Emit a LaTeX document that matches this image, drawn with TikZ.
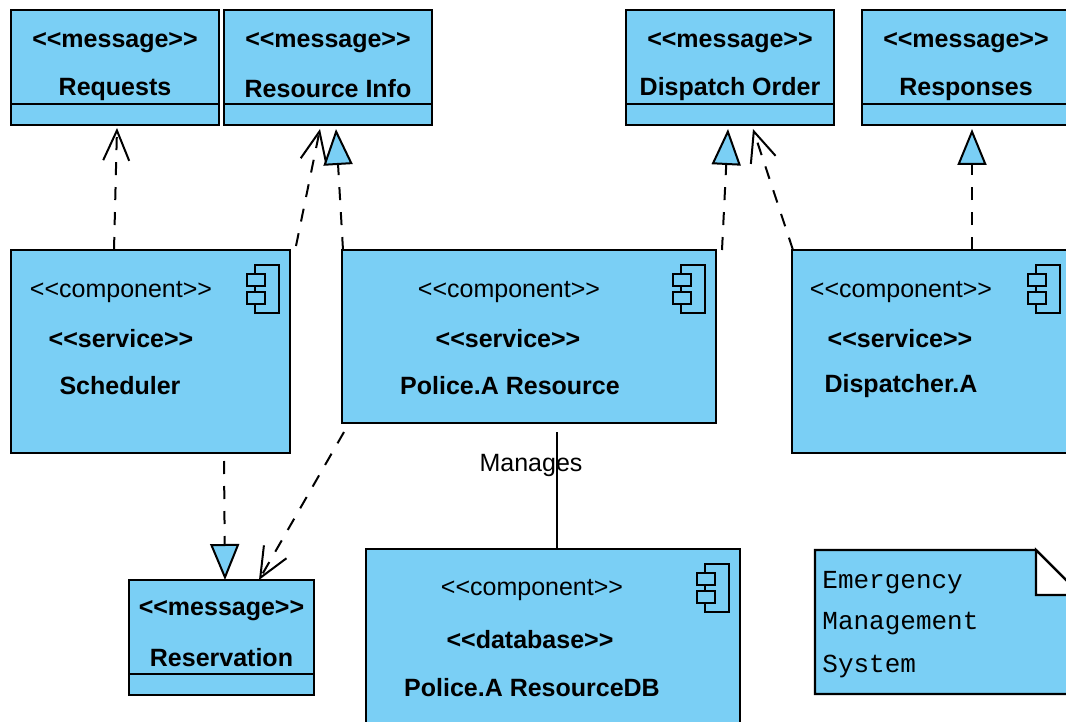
\documentclass[tikz,border=0pt]{standalone}
\usepackage{fontspec}
\setmainfont{Liberation Sans}
\setmonofont{Liberation Mono}
\usetikzlibrary{arrows.meta}
\definecolor{umlblue}{RGB}{122,207,245}
\newcommand{\stype}[1]{<{}<#1>{}>}
\tikzset{
  box/.style={draw, fill=umlblue, line width=1.1pt, inner sep=0pt, outer sep=0pt},
  txt/.style={inner sep=0pt, yshift=-1.5pt, font=\fontsize{12.5}{15}\selectfont},
  btxt/.style={inner sep=0pt, yshift=-1.5pt, font=\fontsize{12.5}{15}\selectfont\bfseries},
  mono/.style={inner sep=0pt, yshift=-1.5pt, anchor=west, font=\fontsize{13}{15}\selectfont\ttfamily},
  dep/.style={line width=1pt, dash pattern=on 6.5pt off 6pt, -{Straight Barb[length=15pt,width=13pt,line width=1pt]}},
  real/.style={line width=1pt, dash pattern=on 6.5pt off 6pt, -{Triangle[open,fill=umlblue,length=18pt,width=14.5pt,line width=1pt]}},
  compicon/.pic={
    \draw[line width=1pt] (-35,15) rectangle (-11,63);
    \draw[line width=1pt, fill=umlblue] (-43,24) rectangle (-25,36);
    \draw[line width=1pt, fill=umlblue] (-43,42) rectangle (-25,54);
  }
}
\begin{document}
\begin{tikzpicture}[x=0.5pt, y=-0.5pt]
\useasboundingbox (0,0) rectangle (1066,722);
\clip (0,0) rectangle (1066,722);
% message boxes
\node[box, minimum width=104pt, minimum height=57.5pt] (requests) at (115,67.5) {};
\node[box, minimum width=104pt, minimum height=57.5pt] (resinfo) at (328,67.5) {};
\node[box, minimum width=104pt, minimum height=57.5pt] (disporder) at (730,67.5) {};
\node[box, minimum width=104pt, minimum height=57.5pt] (responses) at (966,67.5) {};
\node[box, minimum width=92.5pt, minimum height=57.5pt] (reserv) at (221.5,637.5) {};
\foreach \m in {requests,resinfo,disporder,responses,reserv}
  \draw[line width=1.1pt] ([yshift=10.5pt]\m.south west) -- ([yshift=10.5pt]\m.south east);
\node[btxt] (requests-st) at (115,40) {\stype{message}};
\node[btxt] (requests-nm) at (115,86) {Requests};
\node[btxt] (resinfo-st) at (328,40) {\stype{message}};
\node[btxt] (resinfo-nm) at (328,86) {Resource Info};
\node[btxt] (disporder-st) at (730,40) {\stype{message}};
\node[btxt] (disporder-nm) at (730,86) {Dispatch Order};
\node[btxt] (responses-st) at (966,40) {\stype{message}};
\node[btxt] (responses-nm) at (966,86) {Responses};
\node[btxt] (reserv-st) at (221.5,608) {\stype{message}};
\node[btxt] (reserv-nm) at (221.5,655) {Reservation};
% components
\node[box, minimum width=139.5pt, minimum height=101.5pt] (sched) at (150.5,351.5) {};
\node[box, minimum width=187pt, minimum height=86.5pt] (police) at (529,336.5) {};
\node[box, minimum width=139.5pt, minimum height=101.5pt] (disp) at (931.5,351.5) {};
\node[box, minimum width=187pt, minimum height=90pt] (db) at (553,639) {};
\pic at (sched.north east) {compicon};
\pic at (police.north east) {compicon};
\pic at (disp.north east) {compicon};
\pic at (db.north east) {compicon};
\node[txt] (sched-ct) at (121,289) {\stype{component}};
\node[btxt] (sched-st) at (121,336) {\stype{service}};
\node[btxt] (sched-nm) at (120,383) {Scheduler};
\node[txt] (police-ct) at (509,289) {\stype{component}};
\node[btxt] (police-st) at (508,336) {\stype{service}};
\node[btxt] (police-nm) at (510,383) {Police.A Resource};
\node[txt] (disp-ct) at (901,289) {\stype{component}};
\node[btxt] (disp-st) at (900,336) {\stype{service}};
\node[btxt] (disp-nm) at (901,383) {Dispatcher.A};
\node[txt] (db-ct) at (532,587) {\stype{component}};
\node[btxt] (db-st) at (530,637) {\stype{database}};
\node[btxt] (db-nm) at (532,685) {Police.A ResourceDB};
% note
\draw[box] (815,550) -- (1036,550) -- (1081,595) -- (1081,694) -- (815,694) -- cycle;
\draw[line width=1.1pt, fill=white] (1036,550) -- (1036,595) -- (1081,595) -- cycle;
\node[mono] (note1) at (822,580) {Emergency};
\node[mono] (note2) at (822,621) {Management};
\node[mono] (note3) at (822,663) {System};
% connectors
\draw[dep] ([shift={(103,0)}]sched.north west) -- ([shift={(2,3)}]requests.south);
\draw[dep] ([shift={(6,-4)}]sched.north east) -- ([shift={(-8,4)}]resinfo.south);
\draw[real] ([shift={(1,0)}]police.north west) -- ([shift={(8,4)}]resinfo.south);
\draw[real] ([shift={(6,0)}]police.north east) -- ([shift={(-2,4)}]disporder.south);
\draw[dep] ([shift={(1,0)}]disp.north west) -- ([shift={(23,4)}]disporder.south);
\draw[real] ([shift={(180,0)}]disp.north west) -- ([shift={(6,4)}]responses.south);
\draw[real] ([shift={(213,8)}]sched.south west) -- ([shift={(3.5,0)}]reserv.north);
\draw[dep] ([shift={(2,9)}]police.south west) -- ([shift={(37.5,0)}]reserv.north);
\draw[line width=1pt] ([shift={(28,9)}]police.south) -- node[txt, pos=0.26, xshift=-13pt] (manages) {Manages} ([shift={(4,0)}]db.north);
\end{tikzpicture}
\end{document}
